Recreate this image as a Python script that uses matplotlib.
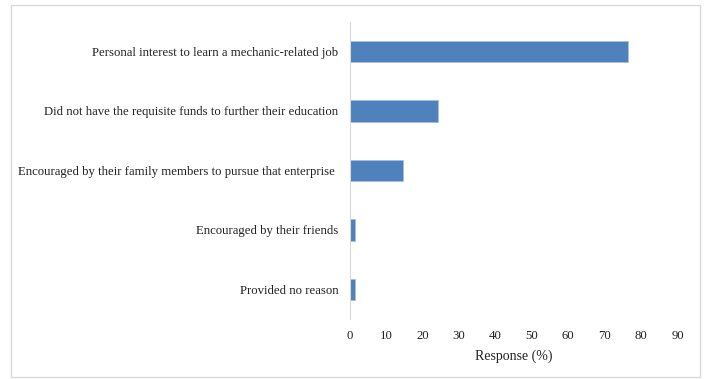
import matplotlib.pyplot as plt
from matplotlib.patches import Rectangle

plt.rcParams['font.family'] = ['Liberation Serif', 'DejaVu Serif']

# reasons for choosing the trade, top to bottom
reasons = [
    "Personal interest to learn a mechanic-related job",
    "Did not have the requisite funds to further their education",
    "Encouraged by their family members to pursue that enterprise ",
    "Encouraged by their friends",
    "Provided no reason",
]
response = [76.4, 24.3, 14.7, 1.6, 1.6]
xticks = [0, 10, 20, 30, 40, 50, 60, 70, 80, 90]

W, H = 706, 379
fig = plt.figure(figsize=(W / 100, H / 100), dpi=100)
ax = fig.add_axes([349.5 / W, 1 - 319 / H, (677.6 - 349.5) / W, (319 - 21.7) / H])

ypos = list(range(len(reasons)))[::-1]
ax.barh(ypos, response, height=0.36, color='#4f81bd', edgecolor='#a7bfe0', linewidth=0.6)

ax.set_ylim(-0.5, 4.5)
ax.set_xlim(0, 90)
ax.set_xticks(xticks)
ax.set_yticks(ypos)
ax.set_yticklabels(reasons)
ax.tick_params(axis='both', length=0, labelsize=9.2, colors='#222222')
ax.tick_params(axis='y', pad=8)
ax.tick_params(axis='x', pad=8)
for s in ['top', 'right', 'bottom']:
    ax.spines[s].set_visible(False)
ax.spines['left'].set_color('#d9d9d9')
ax.set_xlabel("Response (%)", fontsize=10, color='#222222', labelpad=5)

# light frame around the whole chart
fig.patches.append(Rectangle((11 / W, 1 - 377 / H), (700 - 11) / W, (377 - 5) / H,
                             transform=fig.transFigure, fill=False,
                             edgecolor='#d9d9d9', linewidth=1))

fig.savefig('out.png', dpi=100)
